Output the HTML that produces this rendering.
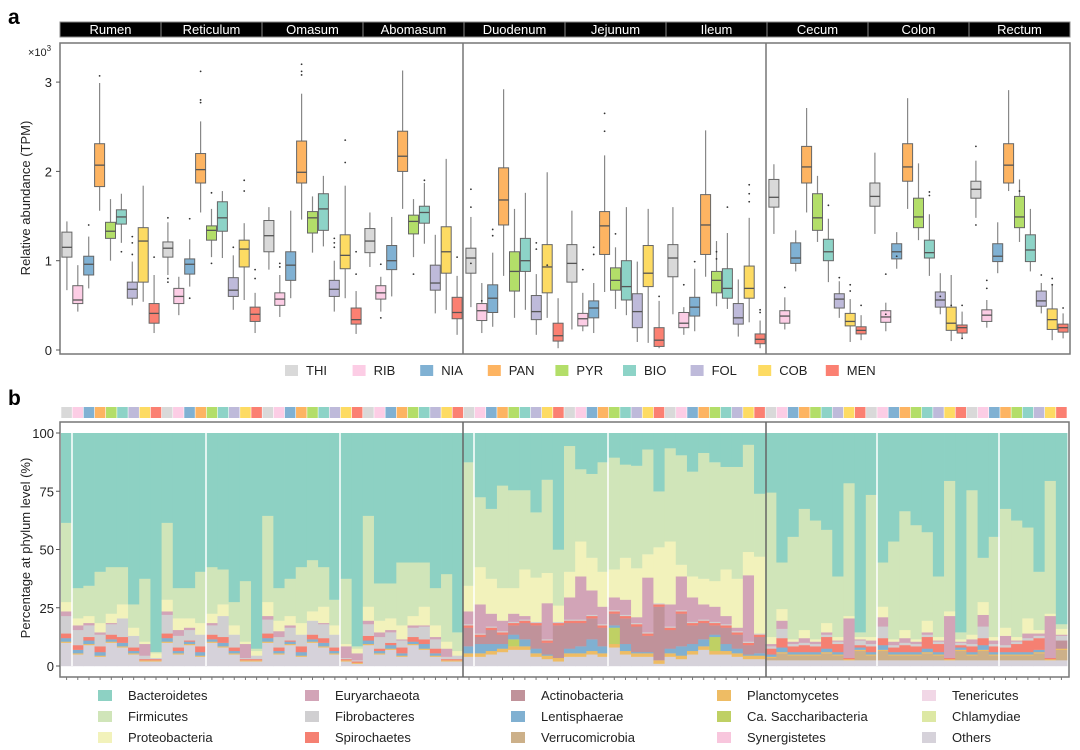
<!DOCTYPE html>
<html><head><meta charset="utf-8">
<style>
html,body{margin:0;padding:0;background:#fff;}
svg{display:block;font-family:"Liberation Sans",Arial,sans-serif;}
</style></head>
<body>
<svg id="chart" width="1080" height="750" viewBox="0 0 1080 750"></svg>
<script>
// ---------- Panel a data ----------
const organs = ["Rumen","Reticulum","Omasum","Abomasum","Duodenum","Jejunum","Ileum","Cecum","Colon","Rectum"];
const vitamins = ["THI","RIB","NIA","PAN","PYR","BIO","FOL","COB","MEN"];
const vitColors = ["#d9d9d9","#fccde5","#80b1d3","#fdb462","#b3de69","#8dd3c7","#bebada","#fddb63","#fb8072"];
// each box: [low, q1, median, q3, high] in x10^3 TPM
const rumenBoxes = [[0.67,1.04,1.15,1.32,1.44],[0.43,0.52,0.56,0.72,0.95],[0.69,0.84,0.96,1.05,1.27],[1.56,1.83,2.07,2.31,2.99],[1.0,1.25,1.33,1.43,1.69],[1.2,1.41,1.49,1.57,1.75],[0.5,0.58,0.68,0.76,0.99],[0.54,0.76,1.22,1.37,1.84],[0.19,0.3,0.41,0.52,0.84]];
const reticulumBoxes = [[0.84,1.04,1.14,1.21,1.43],[0.39,0.52,0.6,0.69,0.82],[0.71,0.85,0.96,1.02,1.24],[1.54,1.87,2.02,2.2,2.56],[1.04,1.23,1.34,1.39,1.58],[1.03,1.33,1.48,1.66,1.78],[0.45,0.6,0.67,0.81,1.06],[0.56,0.93,1.13,1.23,1.42],[0.19,0.32,0.4,0.48,0.64]];
const omasumBoxes = [[0.9,1.1,1.28,1.45,1.6],[0.37,0.5,0.57,0.64,0.84],[0.58,0.78,0.95,1.1,1.56],[1.46,1.87,1.99,2.34,2.87],[1.09,1.31,1.48,1.55,1.72],[1.16,1.34,1.58,1.75,1.95],[0.43,0.6,0.68,0.78,1.0],[0.58,0.91,1.06,1.29,1.84],[0.18,0.29,0.34,0.47,0.66]];
const abomasumBoxes = [[0.93,1.09,1.22,1.36,1.54],[0.43,0.57,0.64,0.72,0.82],[0.6,0.9,1.0,1.17,1.49],[1.58,2.0,2.17,2.45,3.13],[1.04,1.3,1.44,1.51,1.69],[1.19,1.42,1.54,1.61,1.87],[0.41,0.67,0.75,0.95,1.29],[0.45,0.86,1.1,1.38,2.14],[0.17,0.35,0.42,0.59,0.83]];
const duodenumBoxes = [[0.48,0.86,1.03,1.14,1.49],[0.19,0.33,0.44,0.52,0.75],[0.26,0.42,0.58,0.73,1.09],[0.83,1.4,1.68,2.04,2.92],[0.36,0.66,0.88,1.1,1.58],[0.45,0.88,1.0,1.25,1.76],[0.17,0.34,0.43,0.61,0.85],[0.36,0.64,0.93,1.18,1.99],[0.02,0.1,0.16,0.3,0.58]];
const jejunumBoxes = [[0.23,0.76,0.97,1.18,1.56],[0.21,0.27,0.35,0.41,0.64],[0.19,0.36,0.47,0.55,0.75],[0.65,1.07,1.39,1.55,2.18],[0.46,0.67,0.78,0.92,1.15],[0.39,0.56,0.71,1.0,1.6],[0.09,0.25,0.43,0.63,0.99],[0.08,0.71,0.86,1.17,1.58],[0.02,0.04,0.11,0.25,0.55]];
const ileumBoxes = [[0.4,0.82,1.03,1.18,1.6],[0.17,0.25,0.3,0.42,0.48],[0.21,0.38,0.48,0.59,0.91],[0.82,1.07,1.4,1.74,2.46],[0.49,0.64,0.78,0.88,1.22],[0.46,0.58,0.69,0.91,1.31],[0.15,0.29,0.36,0.52,0.79],[0.31,0.58,0.69,0.94,1.48],[0.02,0.07,0.12,0.18,0.33]];
const cecumBoxes = [[1.3,1.6,1.71,1.91,2.08],[0.23,0.3,0.38,0.44,0.59],[0.88,0.97,1.03,1.2,1.34],[1.54,1.87,2.05,2.28,2.71],[1.21,1.34,1.48,1.75,1.95],[0.76,1.0,1.1,1.24,1.47],[0.36,0.47,0.57,0.63,0.77],[0.09,0.27,0.32,0.41,0.57],[0.11,0.18,0.22,0.26,0.39]];
const colonBoxes = [[1.3,1.61,1.72,1.87,2.21],[0.21,0.31,0.37,0.44,0.53],[0.91,1.02,1.1,1.19,1.32],[1.58,1.89,2.05,2.31,2.82],[1.23,1.37,1.49,1.7,2.09],[0.83,1.03,1.09,1.23,1.52],[0.4,0.48,0.56,0.65,0.86],[0.1,0.22,0.3,0.48,0.84],[0.13,0.19,0.25,0.28,0.43]];
const rectumBoxes = [[1.48,1.7,1.8,1.89,2.12],[0.25,0.32,0.39,0.45,0.56],[0.86,0.99,1.05,1.19,1.43],[1.78,1.87,2.07,2.31,2.91],[1.21,1.37,1.49,1.72,1.91],[0.88,0.99,1.12,1.29,1.58],[0.41,0.49,0.55,0.66,0.75],[0.11,0.23,0.34,0.46,0.74],[0.13,0.2,0.25,0.29,0.41]];
const allBoxes = [rumenBoxes,reticulumBoxes,omasumBoxes,abomasumBoxes,duodenumBoxes,jejunumBoxes,ileumBoxes,cecumBoxes,colonBoxes,rectumBoxes];
// outliers: [organ index, vitamin index, value]
const outliers = [[0,3,3.07],[0,2,1.4],[0,5,1.1],[0,6,1.27],[0,6,1.2],[0,6,1.07],[0,8,1.04],[1,3,3.12],[1,3,2.8],[1,3,2.77],[1,0,1.48],[1,0,0.8],[1,0,0.76],[1,2,1.47],[1,2,0.58],[1,4,1.76],[1,4,0.97],[1,7,1.9],[1,7,1.78],[1,6,1.15],[1,8,0.9],[1,8,0.8],[2,3,3.2],[2,3,3.12],[2,3,3.08],[2,1,0.97],[2,1,0.93],[2,7,2.35],[2,7,2.1],[2,6,1.25],[2,6,1.2],[2,6,1.15],[2,8,1.1],[2,8,0.85],[3,1,0.96],[3,1,0.36],[3,4,0.85],[3,5,1.9],[3,8,1.04],[4,0,1.8],[4,0,1.6],[4,0,0.97],[4,1,0.55],[4,2,1.35],[4,2,1.28],[4,6,1.2],[4,6,1.13],[4,7,0.95],[5,3,2.65],[5,3,2.45],[5,1,0.9],[5,2,1.15],[5,2,1.07],[5,4,1.3],[5,8,0.6],[6,4,1.1],[6,4,1.02],[6,5,1.6],[6,2,0.99],[6,1,0.73],[6,7,1.85],[6,7,1.75],[6,7,1.66],[6,8,0.45],[6,8,0.42],[7,1,0.7],[7,5,1.62],[7,6,0.81],[7,7,0.73],[7,7,0.66],[7,8,0.5],[8,1,0.85],[8,1,0.4],[8,2,1.05],[8,5,1.77],[8,5,1.73],[8,6,0.6],[8,7,0.5],[8,8,0.5],[8,8,0.13],[9,0,2.28],[9,0,1.4],[9,1,0.78],[9,1,0.69],[9,4,1.78],[9,6,0.84],[9,7,0.8],[9,7,0.73],[9,8,0.47]];
const aTicks = [0,1,2,3];

// ---------- Panel b data (per-bar layer percentages, 90 bars) ----------
const phyla = ["Bacteroidetes","Firmicutes","Proteobacteria","Euryarchaeota","Fibrobacteres","Spirochaetes","Actinobacteria","Lentisphaerae","Verrucomicrobia","Planctomycetes","Ca. Saccharibacteria","Synergistetes","Tenericutes","Chlamydiae","Others"];
const phylaColors = {"Bacteroidetes":"#8dd1c3","Firmicutes":"#d0e5b9","Proteobacteria":"#f2f2bb","Euryarchaeota":"#d2a4b7","Fibrobacteres":"#d0cfd1","Spirochaetes":"#f58072","Actinobacteria":"#c0929a","Lentisphaerae":"#80b0d1","Verrucomicrobia":"#ccb089","Planctomycetes":"#eebc64","Ca. Saccharibacteria":"#bfd064","Synergistetes":"#f8c6dd","Tenericutes":"#f1d7e6","Chlamydiae":"#dde8a4","Others":"#d6d2da"};
const othersVals = [10,5,9,4,10,8,5,2,2,10,5,9,4,10,8,5,2,2,10,5,9,4,10,8,5,2,1,9,5,7,4,9,7,4,2,2, 4,4,5,6,7,7,4,3,2,4,4,5,4,8,5,4,4,1,4,3,5,7,5,5,4,3,3, 2.5,2.5,2.5,2.5,2.5,2.5,2.5,2.5,2.5,2.5,2.5,2.5,2.5,2.5,2.5,2.5,2.5,2.5,2.5,2.5,2.5,2.5,2.5,2.5,2.5,2.5,2.5];
const verrucoVals = [0,0,0,0,0,0,0,0,0,0,0,0,0,0,0,0,0,0,0,0,0,0,0,0,0,0,0,0,0,0,0,0,0,0,0,0, 0,0,0,0,0,0,0,0,0,0,0,0,0,0,0,0,0,0,0,0,0,0,0,0,0,0,0, 1,3,2,2,2,3,2,0,4,2,4,2,2,2,3,2,0,4,2,4,2,2,2,2,3,0,4.5];
const planctoVals = [0.5,0.5,0.5,0.5,0.5,0.5,0.5,0.5,0.5,0.5,0.5,0.5,0.5,0.5,0.5,0.5,0.5,0.5,0.5,0.5,0.5,0.5,0.5,0.5,0.5,0.5,0.5,0.5,0.5,0.5,0.5,0.5,0.5,0.5,0.5,0.5, 1.5,1.5,1.5,1.5,1.5,1.5,1.5,1.5,1.5,1.5,1.5,1.5,1.5,1.5,1.5,1.5,1.5,1.5,1.5,1.5,1.5,1.5,1.5,1.5,1.5,1.5,1.5, 0.5,0.5,0.5,0.5,0.5,0.5,0.5,0.5,0.5,0.5,0.5,0.5,0.5,0.5,0.5,0.5,0.5,0.5,0.5,0.5,0.5,0.5,0.5,0.5,0.5,0.5,0.5];
const sacchVals = [0,0,0,0,0,0,0,0,0,0,0,0,0,0,0,0,0,0,0,0,0,0,0,0,0,0,0,0,0,0,0,0,0,0,0,0, 0,0,0,0,3,0,0,0,0,0,0,0,0,7,0,0,0,0,0,0,0,0,6,0,0,0,0, 0,0,0,0,0,0,0,0,0,0,0,0,0,0,0,0,0,0,0,0,0,0,0,0,0,0,0];
const lentiVals = [1.5,1.5,1.5,1.5,1,1.5,1,0,0,1.5,1,1,1.5,1,1.5,1,0,0,1.5,1,1,1.5,1,1.5,1,0,0,1.5,1,1.5,1,1,2,1,0,0, 3,4,3,2,2,3,2,0.5,0,2,3,5,3,1,3,0.5,0.5,0,2,4,3,3,1,3,2,0.5,1, 1,2,1,1,1,1.5,1,0,1,1,2,1,1,1,1.5,1,0,1,1,2,1,1,1,1,1,0,0];
const actinoVals = [0,0,0,0,0,0,0,0,0,0,0,0,0,0,0,0,0,0,0,0,0,0,0,0,0,0,0,0,0,0,0,0,0,0,0,0, 8,3,6,4,4,7,10,5,14,11,10,9,8,5,11,11,7,23,8,14,8,7,4,7,6,4,7, 0,0,0,0,0,0,0,0,0,0,0,0,0,0,0,0,0,0,0,0,0,0,0,0,0,0,3.5];
const spiroVals = [2,2,1.5,2.5,2,2.5,1.5,0.5,0.5,2,1.5,0.5,2.5,2,2.5,1.5,0.5,0.5,2,1.5,0.5,2.5,2,2,1.5,0.5,0.5,2,1,1,2.5,2,2,2,0.5,0.5, 1,1,1,1,1,1,1,1,1,1,1,1,1,1,1,1,1,1,1,1,1,1,1,1,1,1,1, 2.5,4,2.5,3,2.5,5,3.5,0.5,1,2.5,3,2,3,2.5,5,3.5,0.5,1,2.5,3,2.5,2,3.5,5,5,0.5,0];
const fibroVals = [7.5,6.5,5,5,4.5,8,5,1.5,0.5,8,5,4.5,5,4,9,5.5,0.5,1.5,6,4.5,5.5,5,6,6,5.5,0.5,0.5,5,5,4.5,3,4,5.5,4,1,1.5, 0.5,0.5,0.5,0.5,0.5,0.5,0.5,0.5,0.5,0.5,0.5,0.5,0.5,0.5,0.5,0.5,0.5,0.5,0.5,0.5,0.5,0.5,0.5,0.5,0.5,0.5,0.5, 1,4,1,1,1,1,1,0,2,1,5,1,1,1,1,1,0,1,1,5,1,1,1,1,1,0,2];
const euryVals = [2,2,1,1,0.5,0,0,5,0,1.5,2.5,1,0,1,0,0,6,0,1.5,2.5,1,0,0,0.5,0,5,3,1.5,2,1,0.5,1,0.5,1,3.5,0, 5.5,12.5,5.5,4.5,3.5,1.5,0,15.5,0,9.5,18.5,10.5,7.5,5.5,6.5,2.5,23.5,0,9.5,14.5,10.5,6.5,6.5,3.5,1.5,28.5,0, 1,3.5,1,2,1,1,0.5,17,0.5,1.5,4,1.5,2,1,1,0.5,18,0.5,2,5,1.5,4,0.5,2,1,18,0.5];
const proteoVals = [4,3,3,4,4,6,3.5,1,2,5,5,4,5,4,5,4,1,2,6,4.5,4,5,4,7,4,1,2,6,5,5,6,4,8,5,3,2, 11,16,15,14,11,20,19,13,7,11,15,14,15,12,18,21,10,24,27,5,9,11,11,20,21,10,33, 3,5,1,3.5,1,4,1.5,1,1,1.5,4.5,1,3.5,1,5,1.5,2,1,2,5.5,1.5,3.5,1.5,6.5,1.5,1,2.5];
const firmVals = [34,13,13,22,20,16,10,27,0.6,33,13,13,22,20,15,10,26,1,37,14,16,24,22,17,11,28,1,39,16,15,27,23,19,16,29,8, 53,30,30,44,42,34,28,40,24,54,31,36,47,48,40,44,45,24,40,47,45,54,51,44,48,46,27, 62,20,44,52,51,40,26,57,2,61,19,42,51,49,38,26,56,3,62,19,43,51,50,39,25,57,2];
const bTicks = [0,25,50,75,100];

const svg = document.getElementById('chart');
const NS = 'http://www.w3.org/2000/svg';
function mk(tag, attrs, parent){ const e=document.createElementNS(NS,tag); for(const k in attrs) e.setAttribute(k,attrs[k]); (parent||svg).appendChild(e); return e; }

// ===== Panel a =====
const aL=60,aR=1070,aT=43,aB=354;
const ya = v => 350 - v*89.3;
const orgW = (aR-aL)/10;
const boxX = (o,i) => aL + (o+0.5)*orgW + (i-4)*10.9;

let t = mk('text',{x:8,y:24,'font-size':21,'font-weight':'bold'}); t.textContent='a';
 

organs.forEach((name,o)=>{
  const x0=aL+o*orgW;
  const r=mk('rect',{x:x0,y:22,width:orgW,height:15,fill:'#000',stroke:'#888','stroke-width':1});
   
  const tx=mk('text',{x:x0+orgW/2,y:34,'font-size':13,fill:'#fff','text-anchor':'middle'}); tx.textContent=name;
   
});
let fr=mk('rect',{x:aL,y:aT,width:aR-aL,height:aB-aT,fill:'none',stroke:'#777','stroke-width':1.5});
 
[463,766].forEach(x=>{ const l=mk('line',{x1:x,x2:x,y1:aT,y2:aB,stroke:'#777','stroke-width':1.5});
    });
aTicks.forEach(v=>{
  const l=mk('line',{x1:aL-4,x2:aL,y1:ya(v),y2:ya(v),stroke:'#555'});
   
  const tx=mk('text',{x:aL-8,y:ya(v)+5,'font-size':13,'text-anchor':'end',fill:'#222'}); tx.textContent=v;
   
});
t=mk('text',{x:28,y:56,'font-size':11,fill:'#222'}); t.innerHTML='×10<tspan dy="-5" font-size="8">3</tspan>';
 
t=mk('text',{x:0,y:0,'font-size':13,'text-anchor':'middle',fill:'#222',transform:'translate(30,198) rotate(-90)'}); t.textContent='Relative abundance (TPM)';
 

allBoxes.forEach((boxes,o)=>{
  boxes.forEach((b,i)=>{
    const cx=boxX(o,i), w=10;
    const g=mk('g',{});
     
    mk('line',{x1:cx,x2:cx,y1:ya(b[0]),y2:ya(b[4]),stroke:'#888','stroke-width':1.2},g);
    mk('rect',{x:cx-w/2,y:ya(b[3]),width:w,height:ya(b[1])-ya(b[3]),fill:vitColors[i],stroke:'#666','stroke-width':1},g);
    mk('line',{x1:cx-w/2,x2:cx+w/2,y1:ya(b[2]),y2:ya(b[2]),stroke:'#555','stroke-width':1.3},g);
  });
});
outliers.forEach(p=>{
  const c=mk('circle',{cx:boxX(p[0],p[1]),cy:ya(p[2]),r:0.9,fill:'#333'});
   
});
vitamins.forEach((v,i)=>{
  const x=285+i*67.6;
  const g=mk('g',{});  
  mk('rect',{x:x,y:365,width:13,height:11,fill:vitColors[i]},g);
  const tx=mk('text',{x:x+21,y:375,'font-size':13,fill:'#222'},g); tx.textContent=v;
});

// ===== Panel b =====
const bL=61,bR=1067,bT=422,bB=677;
const yb = v => 666 - v*2.33;
const nb = 90, step=(bR-bL)/nb;
const xb = j => bL + j*step;
t=mk('text',{x:8,y:405,'font-size':21,'font-weight':'bold'}); t.textContent='b';
 
for(let j=0;j<nb;j++){
  const r=mk('rect',{x:xb(j)+0.3,y:407,width:step-0.6,height:11,fill:vitColors[j%9]});
   
}
const layers = [["Others",othersVals],["Verrucomicrobia",verrucoVals],["Planctomycetes",planctoVals],["Ca. Saccharibacteria",sacchVals],["Lentisphaerae",lentiVals],["Actinobacteria",actinoVals],["Spirochaetes",spiroVals],["Fibrobacteres",fibroVals],["Euryarchaeota",euryVals],["Proteobacteria",proteoVals],["Firmicutes",firmVals]];
for(let j=0;j<nb;j++){
  let cum=0;
  const g=mk('g',{});  
  layers.forEach(([name,arr])=>{
    const v=arr[j]; if(v<=0) return;
    mk('rect',{x:xb(j),y:yb(cum+v),width:step+0.4,height:yb(cum)-yb(cum+v)+0.2,fill:phylaColors[name]},g);
    cum+=v;
  });
  if(cum<100) mk('rect',{x:xb(j),y:yb(100),width:step+0.4,height:yb(cum)-yb(100)+0.2,fill:phylaColors["Bacteroidetes"]},g);
}
[72,206,340,474,608,877,999].forEach(x=>{
  const l=mk('line',{x1:x,x2:x,y1:yb(100),y2:yb(0),stroke:'#fff','stroke-width':1.5});
   
});
fr=mk('rect',{x:bL-1,y:bT,width:bR-bL+3,height:bB-bT,fill:'none',stroke:'#777','stroke-width':1.5});
 
[463,766].forEach(x=>{ const l=mk('line',{x1:x,x2:x,y1:bT,y2:bB,stroke:'#666','stroke-width':1.5});
    });
for(let j=0;j<nb;j++){
  const l=mk('line',{x1:xb(j)+step/2,x2:xb(j)+step/2,y1:bB,y2:bB+3,stroke:'#777'});
   
}
bTicks.forEach(v=>{
  const l=mk('line',{x1:bL-5,x2:bL-1,y1:yb(v),y2:yb(v),stroke:'#555'});
   
  const tx=mk('text',{x:bL-7,y:yb(v)+5,'font-size':13,'text-anchor':'end',fill:'#222'}); tx.textContent=v;
   
});
t=mk('text',{x:0,y:0,'font-size':13,'text-anchor':'middle',fill:'#222',transform:'translate(30,548) rotate(-90)'}); t.textContent='Percentage at phylum level (%)';
 
const colX=[98,305,511,717,922];
phyla.forEach((p,k)=>{
  const c=Math.floor(k/3), r=k%3;
  const x=colX[c], y=690+r*21;
  const g=mk('g',{});  
  mk('rect',{x:x,y:y,width:14,height:11,fill:phylaColors[p]},g);
  const tx=mk('text',{x:x+30,y:y+10,'font-size':13,fill:'#222'},g); tx.textContent=p;
});
</script>
</body></html>
